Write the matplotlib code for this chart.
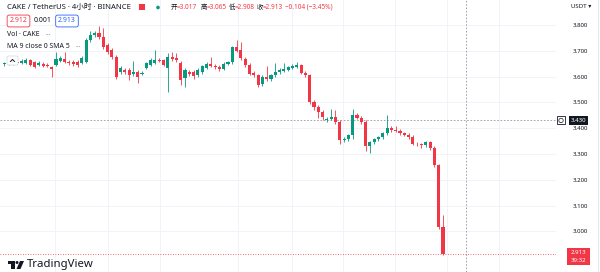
#======================================================================
# CAKE / TetherUS 4h candles, TradingView style snapshot
#======================================================================
import matplotlib
matplotlib.use('Agg')
import matplotlib.pyplot as plt
import matplotlib.patches as patches
import numpy as np

plt.rcParams['font.family'] = ['Noto Sans', 'Noto Sans CJK SC', 'DejaVu Sans']

#------------------ OHLC ---------------------------------------------------
opens = [3.648, 3.653, 3.650, 3.655, 3.652, 3.653, 3.664, 3.657, 3.645, 3.649,
         3.645, 3.637, 3.645, 3.660, 3.668, 3.657, 3.657, 3.657, 3.653, 3.657,
         3.742, 3.760, 3.768, 3.752, 3.722, 3.703, 3.676, 3.618, 3.626, 3.626,
         3.610, 3.618, 3.612, 3.633, 3.645, 3.653, 3.665, 3.664, 3.633, 3.676,
         3.672, 3.653, 3.595, 3.618, 3.618, 3.606, 3.617, 3.635, 3.650, 3.642,
         3.637, 3.630, 3.650, 3.655, 3.715, 3.703, 3.668, 3.645, 3.614, 3.606,
         3.570, 3.600, 3.590, 3.606, 3.618, 3.622, 3.626, 3.633, 3.637, 3.645,
         3.615, 3.606, 3.502, 3.482, 3.463, 3.432, 3.436, 3.443, 3.424, 3.354,
         3.360, 3.372, 3.450, 3.440, 3.424, 3.330, 3.345, 3.358, 3.366, 3.380,
         3.401, 3.393, 3.390, 3.380, 3.374, 3.366, 3.340, 3.337, 3.333, 3.347,
         3.323, 3.257, 3.017]
highs = [3.658, 3.660, 3.662, 3.665, 3.668, 3.672, 3.670, 3.662, 3.660, 3.656,
         3.652, 3.642, 3.695, 3.680, 3.695, 3.664, 3.664, 3.666, 3.680, 3.750,
         3.775, 3.778, 3.796, 3.790, 3.730, 3.712, 3.684, 3.640, 3.632, 3.634,
         3.660, 3.625, 3.622, 3.658, 3.672, 3.703, 3.672, 3.670, 3.690, 3.695,
         3.690, 3.660, 3.632, 3.626, 3.624, 3.632, 3.645, 3.655, 3.675, 3.650,
         3.645, 3.656, 3.662, 3.720, 3.740, 3.735, 3.675, 3.652, 3.622, 3.612,
         3.605, 3.640, 3.612, 3.652, 3.632, 3.652, 3.642, 3.648, 3.655, 3.650,
         3.622, 3.612, 3.510, 3.490, 3.470, 3.445, 3.475, 3.470, 3.430, 3.366,
         3.378, 3.474, 3.460, 3.448, 3.430, 3.350, 3.362, 3.370, 3.385, 3.450,
         3.408, 3.410, 3.398, 3.386, 3.380, 3.372, 3.346, 3.342, 3.352, 3.352,
         3.330, 3.262, 3.065]
lows = [3.642, 3.645, 3.646, 3.648, 3.647, 3.650, 3.640, 3.632, 3.640, 3.636,
        3.636, 3.598, 3.640, 3.655, 3.652, 3.646, 3.642, 3.638, 3.648, 3.652,
        3.735, 3.752, 3.745, 3.708, 3.688, 3.668, 3.590, 3.610, 3.612, 3.587,
        3.604, 3.575, 3.606, 3.628, 3.640, 3.648, 3.655, 3.640, 3.540, 3.662,
        3.658, 3.567, 3.560, 3.604, 3.590, 3.600, 3.610, 3.630, 3.636, 3.630,
        3.622, 3.625, 3.645, 3.650, 3.695, 3.665, 3.638, 3.605, 3.600, 3.560,
        3.562, 3.582, 3.584, 3.600, 3.612, 3.618, 3.620, 3.628, 3.632, 3.610,
        3.600, 3.495, 3.470, 3.440, 3.430, 3.425, 3.430, 3.418, 3.340, 3.345,
        3.352, 3.360, 3.436, 3.418, 3.312, 3.305, 3.338, 3.350, 3.360, 3.375,
        3.386, 3.385, 3.374, 3.368, 3.360, 3.334, 3.330, 3.325, 3.328, 3.315,
        3.250, 3.010, 2.908]
closes = [3.653, 3.650, 3.655, 3.652, 3.660, 3.665, 3.645, 3.637, 3.653, 3.641,
          3.641, 3.629, 3.668, 3.672, 3.657, 3.653, 3.649, 3.645, 3.672, 3.742,
          3.760, 3.768, 3.752, 3.715, 3.695, 3.676, 3.598, 3.633, 3.618, 3.606,
          3.618, 3.598, 3.615, 3.653, 3.664, 3.664, 3.660, 3.645, 3.676, 3.668,
          3.664, 3.587, 3.626, 3.610, 3.602, 3.626, 3.640, 3.648, 3.642, 3.637,
          3.630, 3.650, 3.655, 3.715, 3.700, 3.672, 3.645, 3.610, 3.606, 3.567,
          3.600, 3.590, 3.606, 3.618, 3.626, 3.630, 3.637, 3.640, 3.645, 3.615,
          3.606, 3.502, 3.482, 3.463, 3.445, 3.436, 3.443, 3.424, 3.354, 3.360,
          3.372, 3.450, 3.440, 3.424, 3.330, 3.345, 3.358, 3.366, 3.380, 3.401,
          3.393, 3.390, 3.380, 3.374, 3.366, 3.340, 3.337, 3.333, 3.347, 3.323,
          3.257, 3.017, 2.913]

price_ticks = [3.0, 3.1, 3.2, 3.3, 3.4, 3.5, 3.6, 3.7, 3.8]
cross_price = 3.430
last_price = 2.913
countdown = '39:32'
title_txt = 'CAKE / TetherUS · 4小时 · BINANCE'
ohlc_labels = ['开', '高', '低', '收']
ohlc_vals = ['=3.017', '=3.065', '=2.908', '=2.913']
change_txt = '\u22120.104 (\u22123.45%)'

UP = '#089981'
DOWN = '#f23645'
TXT = '#131722'
GRID = '#f0f3fa'

#------------------ pixel <-> data mapping ---------------------------------
W, H = 600, 272
plot_w = 556          # width of the candle pane in px
dx = 4.3              # px per candle
x0 = 4.4              # px of first candle
px_per_unit = 258.0   # px per 1.0 USDT
y_ref, p_ref = 25, 3.8

fig = plt.figure(figsize=(W / 100, H / 100), dpi=100)
ax = fig.add_axes([0, 0, plot_w / W, 1])
ax.set_xlim(-x0 / dx, (plot_w - x0) / dx)
ax.set_ylim(p_ref - (H - y_ref) / px_per_unit, p_ref + y_ref / px_per_unit)
for s in ax.spines.values():
    s.set_visible(False)

o = np.array(opens); h = np.array(highs); l = np.array(lows); c = np.array(closes)
idx = np.arange(len(c))
cols = np.where(c >= o, UP, DOWN)

# grid
for p in price_ticks:
    ax.axhline(p, color=GRID, lw=0.7, zorder=0)
for gx in [55, 108, 160, 238, 292, 343, 395, 447, 499]:
    ax.axvline((gx - x0) / dx, color=GRID, lw=0.7, zorder=0)

# candles
ax.vlines(idx, l, h, colors=cols, lw=0.6, zorder=2)
body = np.maximum(np.abs(c - o), 0.002)
ax.bar(idx, body, bottom=np.minimum(o, c), width=0.72, color=cols, lw=0, zorder=3)

# crosshair + last price line
ax.axhline(cross_price, color='#9598a1', lw=0.6, ls=(0, (2, 2)), zorder=1)
ax.axvline((466 - x0) / dx, color='#9598a1', lw=0.6, ls=(0, (2, 2)), zorder=1)
ax.axhline(last_price, color=DOWN, lw=0.6, ls=(0, (1, 2)), zorder=1)

# price scale
ax.yaxis.tick_right()
ax.set_yticks(price_ticks)
ax.set_yticklabels(['%.3f' % p for p in price_ticks], fontsize=4.4, color=TXT)
ax.tick_params(axis='y', length=0, pad=12)
ax.set_xticks([])

#------------------ overlay in pixel coordinates ---------------------------
ov = fig.add_axes([0, 0, 1, 1])
ov.set_xlim(0, W); ov.set_ylim(H, 0)
ov.axis('off')
ov.patch.set_alpha(0)

def py(p):
    return y_ref + (p_ref - p) * px_per_unit

# header line
ov.text(7, 7.5, title_txt, fontsize=5.5, color=TXT, va='center', ha='left')
ov.add_patch(patches.Rectangle((139, 4), 6, 6, color=DOWN, lw=0))
ov.add_patch(patches.Circle((158, 7.5), 1.8, color=UP, lw=0))
hx = [171, 201, 229, 257]
for xx, lab, val in zip(hx, ohlc_labels, ohlc_vals):
    ov.text(xx, 7.5, lab, fontsize=4.6, color=TXT, va='center', ha='left')
    ov.text(xx + 6, 7.5, val, fontsize=4.6, color=DOWN, va='center', ha='left')
ov.text(285, 7.5, change_txt, fontsize=4.6, color=DOWN, va='center', ha='left')

# bid / spread / ask
ov.text(18.5, 21, '2.912', fontsize=5, color=DOWN, va='center', ha='center',
        bbox=dict(boxstyle='round,pad=0.35,rounding_size=0.3', fc='white', ec=DOWN, lw=0.6))
ov.text(43, 21, '0.001', fontsize=5, color=TXT, va='center', ha='center')
ov.text(67, 21, '2.913', fontsize=5, color='#2962ff', va='center', ha='center',
        bbox=dict(boxstyle='round,pad=0.35,rounding_size=0.3', fc='white', ec='#2962ff', lw=0.6))

# indicator legends
ov.text(7, 35, 'Vol · CAKE', fontsize=5, color=TXT, va='center', ha='left')
ov.text(45, 35, '···', fontsize=5, color='#787b86', va='center', ha='left')
ov.text(7, 47, 'MA 9 close 0 SMA 5', fontsize=5, color=TXT, va='center', ha='left')
ov.text(75, 47, '···', fontsize=5, color='#787b86', va='center', ha='left')
ov.add_patch(patches.FancyBboxPatch((7, 56), 11, 9, boxstyle='round,pad=0,rounding_size=1.5',
                                    fc='white', ec='#d1d4dc', lw=0.5, zorder=5))
ov.plot([10.5, 12.5, 14.5], [61.5, 59.5, 61.5], color=TXT, lw=0.7, zorder=6)

# right price scale labels
ov.text(581, 6, 'USDT ▾', fontsize=4.4, color=TXT, va='center', ha='center')
ov.text(578.5, py(cross_price), '%.3f' % cross_price, fontsize=4.4, color='white',
        va='center', ha='center', fontweight='bold',
        bbox=dict(boxstyle='square,pad=0.3', fc=TXT, ec=TXT, lw=0))
ov.add_patch(patches.Rectangle((557, py(cross_price) - 4), 8, 8, fc='white', ec=TXT, lw=0.6))
ov.add_patch(patches.Circle((561, py(cross_price)), 2.2, fc='none', ec=TXT, lw=0.5))
ov.add_patch(patches.Rectangle((567, 248), 23, 17, fc=DOWN, lw=0))
ov.text(578.5, 252.5, '%.3f' % last_price, fontsize=4.4, color='white', va='center', ha='center')
ov.text(578.5, 260.5, countdown, fontsize=4.4, color='white', va='center', ha='center')
ov.plot([598, 598], [0, H], color='#e0e3eb', lw=0.6)

# TradingView logo
ov.add_patch(patches.Rectangle((8, 261), 7, 3, color=TXT, lw=0))
ov.add_patch(patches.Rectangle((11, 261), 3.5, 8, color=TXT, lw=0))
ov.add_patch(patches.Circle((17, 262.5), 1.5, color=TXT, lw=0))
ov.add_patch(patches.Polygon([[20, 261], [24, 261], [20.5, 269], [16.5, 269]], color=TXT, lw=0))
ov.text(27, 265, 'TradingView', fontsize=8.2, color=TXT, va='center', ha='left',
        fontweight='bold')

fig.savefig('out.png', dpi=100, facecolor='white')
print("Completed Successfully ...")
